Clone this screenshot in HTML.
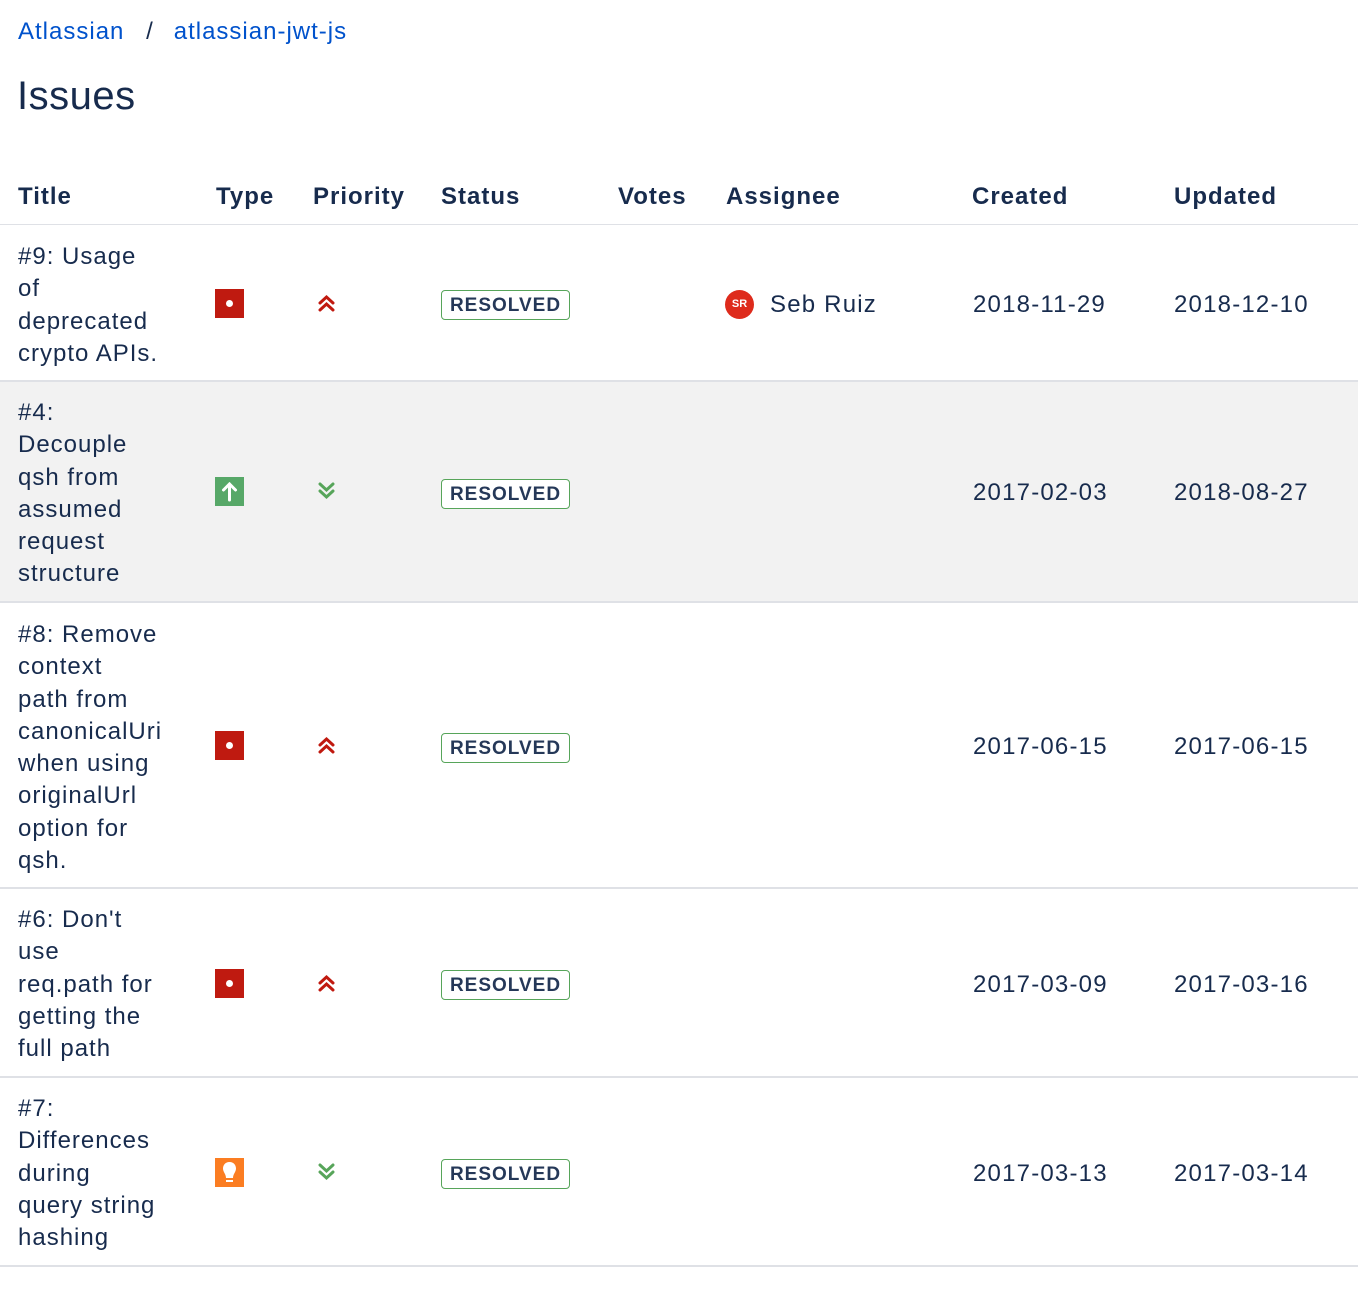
<!DOCTYPE html>
<html><head><meta charset="utf-8"><style>
body{margin:0;width:1372px;height:1316px;background:#fff;font-family:"Liberation Sans",sans-serif;color:#172b4d;position:relative;overflow:hidden}
.a{position:absolute;white-space:nowrap}
.t{font-size:24px;line-height:32.3px;left:18px;letter-spacing:1px}
.h{font-size:24px;font-weight:bold;top:183px;letter-spacing:1px}
.row{position:absolute;left:0;width:1358px;border-bottom:2px solid #dfe1e6}
.d{font-size:24px;line-height:30px;letter-spacing:1.2px}
.badge{position:absolute;left:441px;width:127px;height:28px;border:1px solid #57a55a;border-radius:4px;font-size:19px;font-weight:bold;color:#253858;text-align:center;line-height:29px;letter-spacing:1px;background:#fff}
.sq{position:absolute;left:215px;width:29px;height:29px}
</style></head><body>
<div class="a" style="left:18px;top:18px;font-size:24px;color:#0052cc;letter-spacing:1px">Atlassian <span style="color:#172b4d;margin:0 20px 0 14px">/</span>atlassian-jwt-js</div>
<div class="a" style="left:17px;top:74px;font-size:40px;color:#172b4d;letter-spacing:0.5px">Issues</div>
<div class="a h" style="left:18px">Title</div>
<div class="a h" style="left:216px">Type</div>
<div class="a h" style="left:313px">Priority</div>
<div class="a h" style="left:441px">Status</div>
<div class="a h" style="left:618px">Votes</div>
<div class="a h" style="left:726px">Assignee</div>
<div class="a h" style="left:972px">Created</div>
<div class="a h" style="left:1174px">Updated</div>
<div class="row" style="top:224px;height:0;border-bottom:1px solid #dfe1e6"></div>
<div class="row" style="top:225px;height:155px"></div>
<div class="row" style="top:382px;height:219px;background:#f2f2f2"></div>
<div class="row" style="top:603px;height:284px"></div>
<div class="row" style="top:889px;height:187px"></div>
<div class="row" style="top:1078px;height:187px"></div>

<div class="a t" style="top:241px">#9: Usage<br>of<br>deprecated<br>crypto APIs.</div>
<div class="a t" style="top:397px">#4:<br>Decouple<br>qsh from<br>assumed<br>request<br>structure</div>
<div class="a t" style="top:619px">#8: Remove<br>context<br>path from<br>canonicalUri<br>when using<br>originalUrl<br>option for<br>qsh.</div>
<div class="a t" style="top:904px">#6: Don't<br>use<br>req.path for<br>getting the<br>full path</div>
<div class="a t" style="top:1093px">#7:<br>Differences<br>during<br>query string<br>hashing</div>

<div class="sq" style="top:289px;background:#bf1a10"><div style="position:absolute;left:11px;top:11px;width:7px;height:7px;border-radius:50%;background:#fff"></div></div>
<div class="sq" style="top:477px;background:#57a868"><svg width="29" height="29"><path d="M14.5 23V7M8.5 13L14.5 7L20.5 13" stroke="#fff" stroke-width="3" fill="none" stroke-linecap="round"/></svg></div>
<div class="sq" style="top:731px;background:#bf1a10"><div style="position:absolute;left:11px;top:11px;width:7px;height:7px;border-radius:50%;background:#fff"></div></div>
<div class="sq" style="top:969px;background:#bf1a10"><div style="position:absolute;left:11px;top:11px;width:7px;height:7px;border-radius:50%;background:#fff"></div></div>
<div class="sq" style="top:1158px;background:#fb7d22"><svg width="29" height="29"><path d="M14.5 4C10 4 8 7.5 8 10.5C8 14 11 16 11 20H18C18 16 21 14 21 10.5C21 7.5 19 4 14.5 4Z" fill="#fff"/><rect x="11" y="22" width="7" height="2" fill="#fff"/></svg></div>

<svg class="a" style="left:318px;top:294px" width="17" height="18"><path d="M2 9L8.5 3L15 9M2 16L8.5 10L15 16" stroke="#c0190f" stroke-width="3" fill="none" stroke-linecap="round"/></svg>
<svg class="a" style="left:318px;top:482px" width="17" height="18"><path d="M2 2L8.5 8L15 2M2 9L8.5 15L15 9" stroke="#57a55a" stroke-width="3" fill="none" stroke-linecap="round"/></svg>
<svg class="a" style="left:318px;top:736px" width="17" height="18"><path d="M2 9L8.5 3L15 9M2 16L8.5 10L15 16" stroke="#c0190f" stroke-width="3" fill="none" stroke-linecap="round"/></svg>
<svg class="a" style="left:318px;top:974px" width="17" height="18"><path d="M2 9L8.5 3L15 9M2 16L8.5 10L15 16" stroke="#c0190f" stroke-width="3" fill="none" stroke-linecap="round"/></svg>
<svg class="a" style="left:318px;top:1163px" width="17" height="18"><path d="M2 2L8.5 8L15 2M2 9L8.5 15L15 9" stroke="#57a55a" stroke-width="3" fill="none" stroke-linecap="round"/></svg>

<div class="badge" style="top:290px">RESOLVED</div>
<div class="badge" style="top:479px">RESOLVED</div>
<div class="badge" style="top:733px">RESOLVED</div>
<div class="badge" style="top:970px">RESOLVED</div>
<div class="badge" style="top:1159px">RESOLVED</div>

<div class="a" style="left:725px;top:290px;width:29px;height:29px;border-radius:50%;background:#de2b1c;color:#fff;font-size:11px;font-weight:bold;text-align:center;line-height:29px">SR</div>
<div class="a d" style="left:770px;top:290px">Seb Ruiz</div>

<div class="a d" style="left:973px;top:290px">2018-11-29</div><div class="a d" style="left:1174px;top:290px">2018-12-10</div>
<div class="a d" style="left:973px;top:478px">2017-02-03</div><div class="a d" style="left:1174px;top:478px">2018-08-27</div>
<div class="a d" style="left:973px;top:732px">2017-06-15</div><div class="a d" style="left:1174px;top:732px">2017-06-15</div>
<div class="a d" style="left:973px;top:970px">2017-03-09</div><div class="a d" style="left:1174px;top:970px">2017-03-16</div>
<div class="a d" style="left:973px;top:1159px">2017-03-13</div><div class="a d" style="left:1174px;top:1159px">2017-03-14</div>
</body></html>
